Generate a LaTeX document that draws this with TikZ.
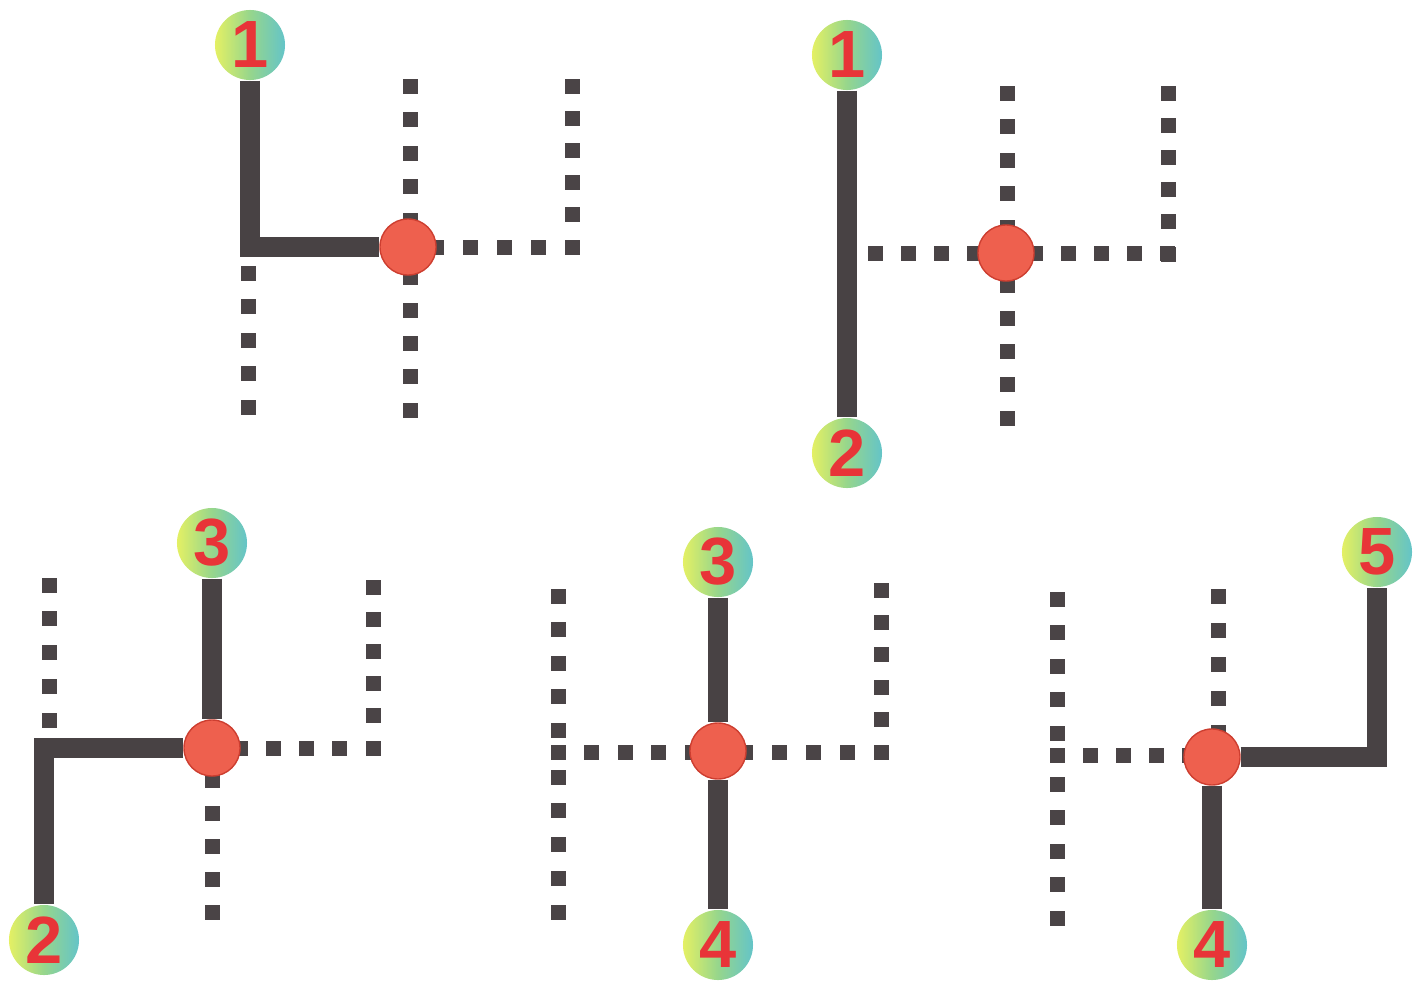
\documentclass[tikz,border=0pt]{standalone}
\usepackage{fontspec}
\setmainfont{Liberation Sans}
\usepackage{tikz}
\usetikzlibrary{calc,positioning}
\definecolor{gatedark}{RGB}{74,68,70}
\definecolor{roddark}{RGB}{72,66,68}
\definecolor{neutralred}{RGB}{238,96,78}
\definecolor{neutraledge}{RGB}{205,62,48}
\definecolor{knobyellow}{RGB}{228,240,100}
\definecolor{knobgreen}{RGB}{150,214,140}
\definecolor{knobteal}{RGB}{100,196,200}
\definecolor{digitred}{RGB}{232,52,56}
% a row of gate squares from #1 to #2, #3 gaps
\newcommand{\gatedots}[3]{%
  \foreach \k in {0,...,#3}
    \fill[gatedark] ($(#1)!\k/#3!(#2)$) ++(-7.5,-7.5) rectangle ++(15,15);}

\begin{document}
\begin{tikzpicture}[x=0.01cm, y=-0.01cm,
  knob/.style={circle, inner sep=0pt, minimum size=0.7cm,
    left color=knobyellow, right color=knobteal, middle color=knobgreen,
    text=digitred, font=\fontsize{19}{19}\selectfont\bfseries},
  neutral/.style={circle, inner sep=0pt, minimum size=0.56cm,
    fill=neutralred, draw=neutraledge, line width=0.4pt},
  rod/.style={line width=0.2cm, roddark, line join=miter}]
 \useasboundingbox (0,0) rectangle (1420,981);

 % first gear
 \gatedots{248,407}{248,273}{4}
 \gatedots{410,86}{410,220}{4}
 \gatedots{410,277}{410,410}{4}
 \gatedots{572,86}{572,247}{5}
 \gatedots{436,247}{572,247}{4}
 \node[knob] (a1) at (250,45) {1};
 \node[neutral] (an) at (408,247) {};
 \draw[rod] (a1) |- (an);

 % first to second
 \gatedots{1007,93}{1007,227}{4}
 \gatedots{1007,285}{1007,418}{4}
 \gatedots{1168,93}{1168,254}{5}
 \gatedots{875,253}{974,253}{3}
 \gatedots{1035,253}{1167,253}{4}
 \node[knob] (b1) at (847,55) {1};
 \node[knob] (b2) at (847,453) {2};
 \node[neutral] (bn) at (1006,253) {};
 \draw[rod] (b1) -- (b2);

 % second to third
 \gatedots{49,585}{49,720}{4}
 \gatedots{212,780}{212,912}{4}
 \gatedots{373,587}{373,748}{5}
 \gatedots{240,748}{373,748}{4}
 \node[knob] (c3) at (212,543) {3};
 \node[knob] (c2) at (44,940) {2};
 \node[neutral] (cn) at (212,748) {};
 \draw[rod] (c3) -- (cn);
 \draw[rod] (cn) -| (c2);

 % third to fourth
 \gatedots{558,596}{558,730}{4}
 \gatedots{558,777}{558,912}{4}
 \gatedots{558,752}{692,752}{4}
 \gatedots{881,590}{881,752}{5}
 \gatedots{745,752}{881,752}{4}
 \node[knob] (d3) at (718,562) {3};
 \node[knob] (d4) at (718,945) {4};
 \node[neutral] (dn) at (718,751) {};
 \draw[rod] (d3) -- (dn);
 \draw[rod] (dn) -- (d4);

 % fourth to fifth
 \gatedots{1057,599}{1057,733}{4}
 \gatedots{1057,784}{1057,918}{4}
 \gatedots{1057,755}{1189,755}{4}
 \gatedots{1218,596}{1218,732}{4}
 \node[knob] (e5) at (1377,552) {5};
 \node[knob] (e4) at (1212,945) {4};
 \node[neutral] (en) at (1212,757) {};
 \draw[rod] (en) -| (e5);
 \draw[rod] (en) -- (e4);
\end{tikzpicture}
\end{document}
